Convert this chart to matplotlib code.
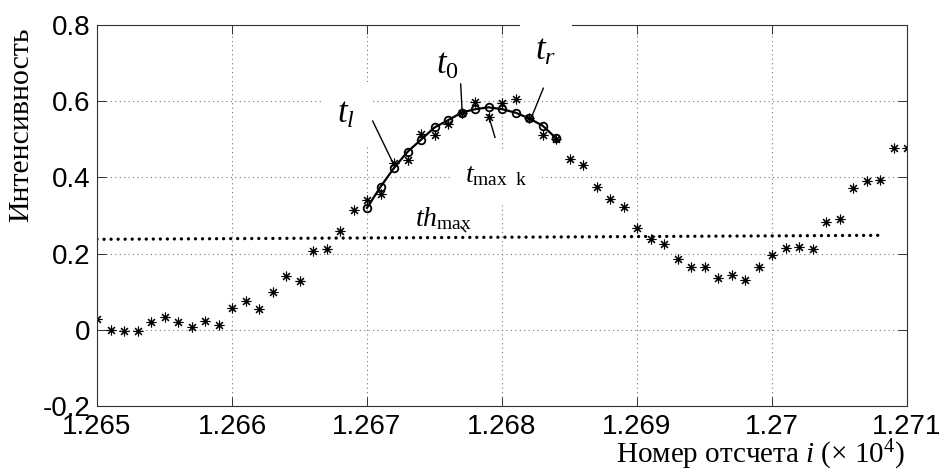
import numpy as np
import matplotlib
matplotlib.use("Agg")
import matplotlib.pyplot as plt

plt.rcParams['mathtext.fontset'] = 'custom'
plt.rcParams['mathtext.rm'] = 'Liberation Serif'
plt.rcParams['mathtext.it'] = 'Liberation Serif:italic'
plt.rcParams['font.family'] = ['Liberation Sans', 'DejaVu Sans']

# ---- data ----
start_index = 12650
star_values = [0.028, 0.000, -0.003, -0.002, 0.020, 0.033, 0.020, 0.007, 0.023, 0.012,
               0.058, 0.075, 0.055, 0.100, 0.142, 0.129, 0.208, 0.213, 0.259, 0.314,
               0.341, 0.356, 0.437, 0.446, 0.513, 0.511, 0.541, 0.570, 0.599, 0.558,
               0.594, 0.606, 0.555, 0.512, 0.500, 0.448, 0.433, 0.374, 0.343, 0.321,
               0.266, 0.238, 0.225, 0.185, 0.165, 0.165, 0.137, 0.144, 0.132, 0.165,
               0.197, 0.214, 0.217, 0.211, 0.284, 0.292, 0.371, 0.391, 0.393, 0.478,
               0.478]
fit_start = 12670
fit_values = [0.320, 0.375, 0.425, 0.467, 0.499, 0.531, 0.550, 0.570, 0.579, 0.584,
              0.579, 0.570, 0.555, 0.536, 0.503]
thr_x = [12650, 12708]
thr_y = [0.2375, 0.248]

x_ticks = [1.265, 1.266, 1.267, 1.268, 1.269, 1.270, 1.271]
x_tick_labels = ['1.265', '1.266', '1.267', '1.268', '1.269', '1.27', '1.271']
y_ticks = [-0.2, 0, 0.2, 0.4, 0.6, 0.8]
y_tick_labels = ['-0.2', '0', '0.2', '0.4', '0.6', '0.8']

scale = 1e4
star_x = (start_index + np.arange(len(star_values))) / scale
fit_x = (fit_start + np.arange(len(fit_values))) / scale
thr_xs = np.array(thr_x) / scale

fig = plt.figure(figsize=(9.4, 4.75), dpi=100)
ax = fig.add_axes([97/940, 1-406/475, 810/940, 381/475])

ax.set_xlim(1.265, 1.271)
ax.set_ylim(-0.2, 0.8)
ax.set_xticks(x_ticks)
ax.set_xticklabels(x_tick_labels)
ax.set_yticks(y_ticks)
ax.set_yticklabels(y_tick_labels)
ax.tick_params(direction='in', length=6.5, width=0.7, labelsize=20,
               top=True, right=True, color='#333333', pad=5)
ax.tick_params(axis='x', pad=6)
for s in ax.spines.values():
    s.set_linewidth(0.8)
    s.set_color('#333333')
ax.set_axisbelow(True)
ax.grid(True, linestyle=(0, (1, 3)), color='#777777', linewidth=0.8)

# threshold
ax.plot(thr_xs, thr_y, color='black', linewidth=2.4, linestyle=(0, (0.01, 2.1)),
        dash_capstyle='round', zorder=2.2)
# samples
ax.plot(star_x, star_values, linestyle='none', marker=(8, 2, 0), markersize=7,
        markeredgewidth=0.8, color='black', zorder=2.3)
# fitted curve
ax.plot(fit_x, fit_values, color='black', linewidth=1.6, marker='o', markersize=5.5,
        markerfacecolor='none', markeredgewidth=1.3, zorder=2.4)

serif = ['Liberation Serif', 'DejaVu Serif']

# annotation texts (positions in data coords)
ax.text(1.266844, 0.566, r'$t_l$', fontsize=25, family=serif, ha='center', va='center',
        zorder=2.1, bbox=dict(boxstyle='square,pad=0.45', facecolor='white', edgecolor='none'))
ax.text(1.267593, 0.695, r'$t_0$', fontsize=25, family=serif, ha='center', va='center',
        zorder=2.1)
ax.text(1.268326, 0.732, r'$t_r$', fontsize=25, family=serif, ha='center', va='center',
        zorder=3, clip_on=False,
        bbox=dict(boxstyle='square,pad=0.45', facecolor='white', edgecolor='none'))
ax.text(1.267956, 0.404, r'$t_{\mathrm{max\ \ k}}$', fontsize=20, family=serif,
        ha='center', va='center', zorder=2.1,
        bbox=dict(boxstyle='square,pad=0.5', facecolor='white', edgecolor='none'))
ax.text(1.267563, 0.293, r'$th_{\mathrm{max}}$', fontsize=20, family=serif,
        ha='center', va='center', zorder=2.1)

# leader lines
leaders = [((1.267042, 0.548), (1.26720, 0.4325)),
           ((1.267694, 0.645), (1.267704, 0.577)),
           ((1.268306, 0.634), (1.268220, 0.559)),
           ((1.267899, 0.564), (1.267948, 0.505)),
           ((1.267696, 0.2706), (1.267731, 0.2575))]
for (a, b) in leaders:
    ax.plot([a[0], b[0]], [a[1], b[1]], color='black', linewidth=1.0, zorder=2.5)

fig.text(21/940, 1-125/475, 'Интенсивность', rotation=90, ha='center', va='center',
         fontsize=21.5, family=serif, style='normal')
fig.text(905/940, 1-455/475, r'Номер отсчета $i$ ($\times$ 10$^4$)', ha='right',
         va='center', fontsize=21, family=serif)

fig.savefig('out.png', dpi=100)
